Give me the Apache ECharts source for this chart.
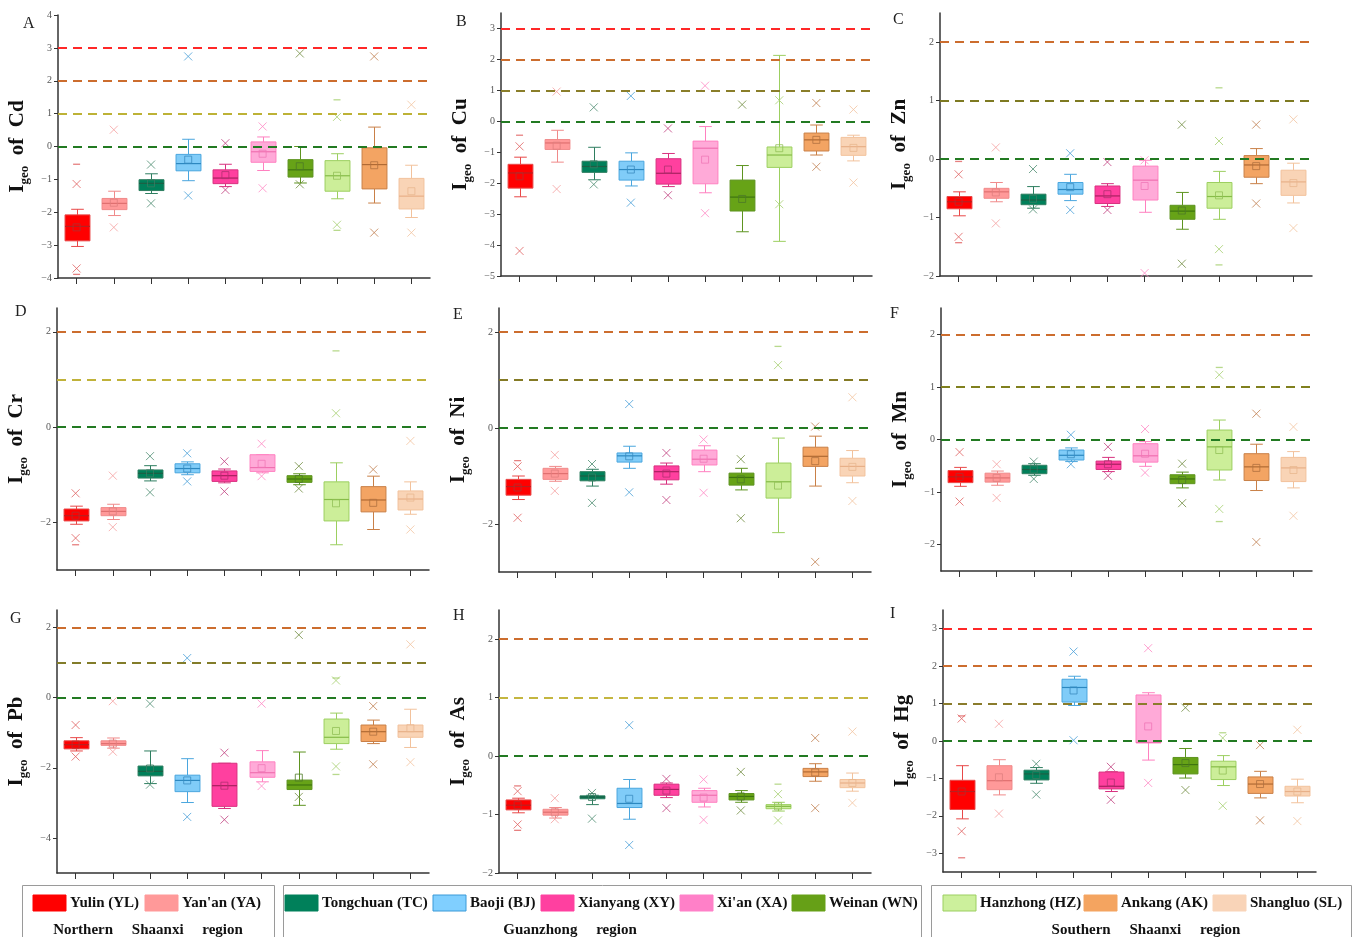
<!DOCTYPE html>
<html><head><meta charset="utf-8">
<script src="https://cdn.jsdelivr.net/npm/echarts@6/dist/echarts.min.js"></script>
<style>html,body{margin:0;padding:0;background:#fff}#c{width:1358px;height:937px}</style>
</head><body><div id="c"></div><script>
// ---------------- DATA ----------------
const categories = ['Yulin (YL)', "Yan'an (YA)", 'Tongchuan (TC)', 'Baoji (BJ)', 'Xianyang (XY)', "Xi'an (XA)", 'Weinan (WN)', 'Hanzhong (HZ)', 'Ankang (AK)', 'Shangluo (SL)'];
const regionNames = ['Northern     Shaanxi     region', 'Guanzhong     region', 'Southern     Shaanxi     region'];
const elements = ['Cd', 'Cu', 'Zn', 'Cr', 'Ni', 'Mn', 'Pb', 'As', 'Hg'];
const panelLetters = ['A', 'B', 'C', 'D', 'E', 'F', 'G', 'H', 'I'];

// box stats per category: [lower whisker, Q1, median, Q3, upper whisker]
const cdBox = [[-3.04,-2.87,-2.43,-2.08,-1.91],[-2.10,-1.92,-1.73,-1.58,-1.36],[-1.43,-1.34,-1.12,-1.01,-0.83],[-1.04,-0.74,-0.52,-0.24,0.22],[-1.22,-1.13,-0.96,-0.71,-0.54],[-0.73,-0.48,-0.16,0.14,0.29],[-1.11,-0.93,-0.71,-0.40,0.0],[-1.59,-1.36,-0.89,-0.43,-0.22],[-1.72,-1.29,-0.55,-0.04,0.59],[-2.16,-1.90,-1.51,-0.97,-0.57]];
const cdMean = [-2.46,-1.71,-1.12,-0.40,-0.87,-0.22,-0.60,-0.89,-0.57,-1.36];
const cdOut = [[-1.14,-3.71],[0.51,-2.46],[-0.55,-1.73],[2.74,-1.49],[0.10,-1.32],[0.61,-1.27],[2.83,-1.15],[0.90,-2.38],[2.74,-2.62],[1.27,-2.62]];
const cdExt = [[-0.54,-3.89],[],[],[],[],[],[],[1.42,-2.55],[],[]];

const cuBox = [[-2.44,-2.16,-1.67,-1.39,-1.16],[-1.32,-0.91,-0.70,-0.59,-0.29],[-1.89,-1.65,-1.46,-1.29,-0.84],[-2.09,-1.90,-1.56,-1.29,-1.02],[-2.11,-2.03,-1.68,-1.21,-1.04],[-2.31,-2.02,-0.87,-0.64,-0.17],[-3.57,-2.90,-2.45,-1.90,-1.43],[-3.88,-1.49,-1.09,-0.83,2.13],[-1.09,-0.96,-0.60,-0.38,-0.12],[-1.28,-1.10,-0.82,-0.52,-0.45]];
const cuMean = [-1.78,-0.79,-1.39,-1.56,-1.56,-1.24,-2.51,-0.87,-0.60,-0.86];
const cuOut = [[-0.81,-4.19],[0.96,-2.19],[0.45,-2.04],[0.82,-2.63],[-0.23,-2.39],[1.15,-2.97],[0.54],[0.68,-2.68],[0.59,-1.47],[0.38,-1.98]];
const cuExt = [[-0.45],[],[],[],[],[],[],[],[],[]];

const znBox = [[-0.97,-0.85,-0.73,-0.64,-0.56],[-0.73,-0.67,-0.56,-0.50,-0.40],[-0.84,-0.78,-0.70,-0.60,-0.47],[-0.71,-0.60,-0.52,-0.40,-0.26],[-0.81,-0.76,-0.63,-0.46,-0.42],[-0.91,-0.70,-0.36,-0.12,-0.02],[-1.20,-1.03,-0.89,-0.79,-0.57],[-1.03,-0.84,-0.64,-0.40,-0.21],[-0.42,-0.31,-0.10,0.06,0.18],[-0.75,-0.62,-0.39,-0.19,-0.07]];
const znMean = [-0.73,-0.57,-0.68,-0.48,-0.60,-0.46,-0.88,-0.62,-0.12,-0.41];
const znOut = [[-0.26,-1.33],[0.20,-1.10],[-0.17,-0.86],[0.10,-0.87],[-0.05,-0.87],[-0.02,-1.95],[0.59,-1.79],[0.31,-1.54],[0.59,-0.76],[0.68,-1.18]];
const znExt = [[-0.04,-1.43],[],[],[],[],[],[],[1.22,-1.81],[],[]];

const crBox = [[-2.04,-1.97,-1.86,-1.72,-1.66],[-1.94,-1.86,-1.77,-1.69,-1.62],[-1.13,-1.07,-0.97,-0.90,-0.81],[-1.00,-0.96,-0.87,-0.77,-0.73],[-1.17,-1.14,-1.02,-0.92,-0.88],[-0.96,-0.93,-0.85,-0.58,-0.58],[-1.21,-1.16,-1.09,-1.02,-0.98],[-2.47,-1.97,-1.52,-1.15,-0.75],[-2.15,-1.78,-1.53,-1.25,-1.03],[-1.83,-1.74,-1.51,-1.34,-1.15]];
const crMean = [-1.86,-1.77,-0.97,-0.87,-1.02,-0.77,-1.09,-1.60,-1.59,-1.48];
const crOut = [[-1.39,-2.33],[-1.02,-2.10],[-0.61,-1.37],[-0.55,-1.14],[-0.72,-1.35],[-0.35,-1.03],[-0.82,-1.29],[0.29],[-0.89],[-0.29,-2.15]];
const crExt = [[-2.47],[],[],[],[],[],[],[1.60],[],[]];

const niBox = [[-1.49,-1.40,-1.22,-1.07,-1.00],[-1.11,-1.07,-0.95,-0.84,-0.80],[-1.21,-1.10,-1.00,-0.91,-0.86],[-0.84,-0.71,-0.58,-0.52,-0.38],[-1.17,-1.08,-0.91,-0.79,-0.73],[-0.91,-0.77,-0.65,-0.46,-0.37],[-1.29,-1.19,-1.03,-0.94,-0.84],[-2.18,-1.46,-1.12,-0.73,-0.21],[-1.21,-0.80,-0.59,-0.40,-0.17],[-1.14,-1.00,-0.80,-0.63,-0.47]];
const niMean = [-1.24,-0.95,-1.03,-0.59,-0.95,-0.64,-1.07,-1.20,-0.69,-0.81];
const niOut = [[-0.80,-1.87],[-0.56,-1.31],[-0.75,-1.56],[0.50,-1.34],[-0.52,-1.50],[-0.24,-1.35],[-0.65,-1.88],[1.31],[0.03,-2.79],[0.64,-1.52]];
const niExt = [[-0.68],[],[],[],[],[],[],[1.70],[],[]];

const mnBox = [[-0.89,-0.82,-0.71,-0.59,-0.53],[-0.87,-0.81,-0.73,-0.64,-0.60],[-0.68,-0.65,-0.57,-0.49,-0.46],[-0.42,-0.39,-0.30,-0.20,-0.16],[-0.61,-0.57,-0.47,-0.41,-0.34],[-0.51,-0.43,-0.31,-0.08,-0.04],[-0.92,-0.84,-0.75,-0.67,-0.62],[-0.77,-0.58,-0.14,0.18,0.37],[-0.97,-0.78,-0.52,-0.27,-0.09],[-0.92,-0.80,-0.54,-0.34,-0.23]];
const mnMean = [-0.71,-0.73,-0.57,-0.28,-0.47,-0.27,-0.77,-0.20,-0.54,-0.58];
const mnOut = [[-0.24,-1.18],[-0.47,-1.11],[-0.42,-0.75],[0.09,-0.47],[-0.14,-0.69],[0.20,-0.63],[-0.46,-1.21],[1.23,-1.32],[0.49,-1.95],[0.24,-1.45]];
const mnExt = [[],[],[],[],[],[],[],[1.37,-1.56],[],[]];

const pbBox = [[-1.52,-1.46,-1.34,-1.23,-1.14],[-1.44,-1.36,-1.31,-1.23,-1.15],[-2.45,-2.23,-2.10,-1.95,-1.52],[-2.99,-2.68,-2.36,-2.21,-1.74],[-3.16,-3.10,-2.51,-1.87,-1.87],[-2.40,-2.27,-2.14,-1.83,-1.51],[-3.07,-2.62,-2.49,-2.35,-1.55],[-1.47,-1.31,-1.13,-0.61,-0.44],[-1.31,-1.25,-0.97,-0.78,-0.64],[-1.42,-1.13,-0.97,-0.78,-0.33]];
const pbMean = [-1.34,-1.31,-2.02,-2.36,-2.51,-2.01,-2.28,-0.95,-0.97,-0.87];
const pbOut = [[-0.78,-1.68],[-0.10,-1.54],[-0.17,-2.48],[1.13,-3.40],[-1.57,-3.48],[-0.17,-2.52],[1.79,-2.83],[0.49,-1.96],[-0.24,-1.90],[1.52,-1.84]];
const pbExt = [[],[],[],[],[],[],[],[0.56,-2.19],[],[]];

const asBox = [[-0.97,-0.92,-0.84,-0.75,-0.72],[-1.06,-1.01,-0.96,-0.91,-0.88],[-0.83,-0.73,-0.70,-0.68,-0.67],[-1.08,-0.88,-0.81,-0.55,-0.40],[-0.71,-0.67,-0.57,-0.48,-0.46],[-0.87,-0.79,-0.67,-0.59,-0.55],[-0.79,-0.75,-0.69,-0.64,-0.59],[-0.94,-0.90,-0.86,-0.83,-0.79],[-0.43,-0.35,-0.27,-0.21,-0.13],[-0.60,-0.54,-0.46,-0.40,-0.29]];
const asMean = [-0.84,-0.96,-0.70,-0.73,-0.59,-0.71,-0.69,-0.86,-0.28,-0.46];
const asOut = [[-0.60,-1.17],[-0.72,-1.08],[-0.63,-1.07],[0.53,-1.52],[-0.39,-0.89],[-0.40,-1.09],[-0.27,-0.93],[-0.65,-1.10],[0.31,-0.89],[0.42,-0.80]];
const asExt = [[-0.51,-1.27],[],[],[],[],[],[],[-0.48],[],[]];

const hgBox = [[-2.08,-1.83,-1.35,-1.05,-0.66],[-1.44,-1.30,-1.06,-0.66,-0.50],[-1.13,-1.04,-0.88,-0.78,-0.71],[0.95,1.04,1.43,1.65,1.73],[-1.35,-1.28,-1.21,-0.83,-0.82],[-0.51,-0.05,-0.04,1.23,1.29],[-0.99,-0.88,-0.63,-0.44,-0.20],[-1.19,-1.03,-0.69,-0.54,-0.39],[-1.52,-1.40,-1.15,-0.96,-0.81],[-1.65,-1.47,-1.35,-1.21,-1.02]];
const hgMean = [-1.35,-0.97,-0.91,1.35,-1.11,0.39,-0.59,-0.79,-1.15,-1.35];
const hgOut = [[0.60,-2.41],[0.46,-1.94],[-0.61,-1.43],[2.39,0.02],[-0.69,-1.57],[2.48,-1.12],[0.89,-1.31],[0.08,-1.73],[-0.11,-2.12],[0.30,-2.14]];
const hgExt = [[0.67,-3.12],[],[],[],[],[],[],[0.22],[],[]];

// y-axis ranges, tick labels, Igeo class lines
const yRanges = [[-4, 4], [-5, 3.5], [-2, 2.5], [-3, 2.5], [-3, 2.5], [-2.5, 2.5], [-5, 2.5], [-2, 2.5], [-3.5, 3.5]];
const yTicks = [[-4,-3,-2,-1,0,1,2,3,4], [-5,-4,-3,-2,-1,0,1,2,3], [-2,-1,0,1,2], [-2,0,2], [-2,0,2], [-2,-1,0,1,2], [-4,-2,0,2], [-2,-1,0,1,2], [-3,-2,-1,0,1,2,3]];
const classLevels = [[0,1,2,3], [0,1,2,3], [0,1,2], [0,1,2], [0,1,2], [0,1,2], [0,1,2], [0,1,2], [0,1,2,3]];

// ---------------- STYLE ----------------
const boxSets = [cdBox, cuBox, znBox, crBox, niBox, mnBox, pbBox, asBox, hgBox];
const meanSets = [cdMean, cuMean, znMean, crMean, niMean, mnMean, pbMean, asMean, hgMean];
const outSets = [cdOut, cuOut, znOut, crOut, niOut, mnOut, pbOut, asOut, hgOut];
const extSets = [cdExt, cuExt, znExt, crExt, niExt, mnExt, pbExt, asExt, hgExt];

const fillColors = ['#FF0000','#FF9999','#00805A','#80CCF8','#FF409F','#FFAAD8','#67A317','#CCEE99','#F3A463','#F9D4B6'];
const lineColors = ['#E84848','#F08A8A','#2E7E60','#4AA6DE','#D8307F','#FF80C0','#5E9420','#9CCF60','#C98048','#F2C29C'];
const medColors  = ['#B82020','#E07070','#1E5E44','#2C88C0','#A8205F','#F070B0','#3E7410','#86BC48','#B06A34','#E8B088'];
const outColors  = ['#E06060','#F5A0A0','#4C8C70','#4AA0D8','#C04080','#FF88C4','#708C40','#A6D070','#C08050','#F3C4A0'];
const meanColors = ['#B03030','#E08080','#3A7A60','#3A8CC0','#B03070','#F078B8','#4E7A28','#92C058','#B07040','#E8B890'];
const legendFill = ['#FF0000','#FF9999','#00805A','#80CFFF','#FF40A0','#FF80C8','#66A017','#CCF09C','#F4A460','#F9D4B8'];
const legendStroke = ['#FF0000','#FF9999','#00805A','#3A9AD8','#FF40A0','#FF80C8','#66A017','#9CCF60','#F4A460','#F9D4B8'];
const oliveColors = ['#BDB236','#8A7E2A','#7E7A22','#C0B23A','#847A24','#80801E','#827C2A','#C4B640','#8A7C2C'];
const levelColor = (lvl, p) => lvl === 3 ? '#FF2828' : lvl === 2 ? '#CC6D2E' : lvl === 1 ? oliveColors[p] : '#227A22';

const grids = [
  {left: 58, top: 15, width: 372, height: 263},
  {left: 501, top: 13, width: 371, height: 263},
  {left: 940, top: 13, width: 372, height: 263},
  {left: 57, top: 308, width: 372, height: 262},
  {left: 499, top: 308, width: 372, height: 264},
  {left: 941, top: 308, width: 371, height: 263},
  {left: 57, top: 610, width: 372, height: 263},
  {left: 499, top: 610, width: 372, height: 263},
  {left: 943, top: 610, width: 373, height: 262}
];
const letterPos = [[29,25],[462,23],[899,21],[21,313],[459,316],[896,315],[16,620],[459,617],[896,615]];

const SERIF = "'Liberation Serif', 'DejaVu Serif', serif";
const minus = v => String(v).replace('-', '\u2212');

function renderBox(params, api) {
  const i = api.value(0);
  const lo = api.coord([i, api.value(1)]);
  const q1 = api.coord([i, api.value(2)]);
  const md = api.coord([i, api.value(3)]);
  const q3 = api.coord([i, api.value(4)]);
  const hi = api.coord([i, api.value(5)]);
  const cw = api.size([1, 0])[0];
  const bw = cw * 0.67, cap = cw * 0.34;
  const x = Math.round(lo[0]) + 0.5;
  const ls = {stroke: lineColors[i], lineWidth: 1};
  return {type: 'group', children: [
    {type: 'line', shape: {x1: x, y1: hi[1], x2: x, y2: q3[1]}, style: ls},
    {type: 'line', shape: {x1: x, y1: q1[1], x2: x, y2: lo[1]}, style: ls},
    {type: 'line', shape: {x1: x - cap / 2, y1: hi[1], x2: x + cap / 2, y2: hi[1]}, style: ls},
    {type: 'line', shape: {x1: x - cap / 2, y1: lo[1], x2: x + cap / 2, y2: lo[1]}, style: ls},
    {type: 'rect', shape: {x: x - bw / 2, y: q3[1], width: bw, height: q1[1] - q3[1]}, style: {fill: fillColors[i], stroke: lineColors[i], lineWidth: 1}},
    {type: 'line', shape: {x1: x - bw / 2, y1: md[1], x2: x + bw / 2, y2: md[1]}, style: {stroke: medColors[i], lineWidth: 1.2}}
  ]};
}

const xAxes = [], yAxes = [], series = [], graphics = [];
for (let p = 0; p < 9; p++) {
  xAxes.push({
    type: 'category', gridIndex: p, data: categories, boundaryGap: true, position: 'bottom',
    axisLine: {onZero: false, lineStyle: {color: '#333', width: 1.5}},
    axisTick: {show: true, alignWithLabel: true, interval: 0, length: 6, lineStyle: {color: '#333', width: 1}},
    axisLabel: {show: true, interval: 0, formatter: () => ''}, splitLine: {show: false}
  });
  yAxes.push({
    type: 'value', gridIndex: p, min: yRanges[p][0], max: yRanges[p][1],
    axisLine: {show: true, onZero: false, lineStyle: {color: '#333', width: 1.5}},
    axisTick: {show: true, length: 4, lineStyle: {color: '#333'}, customValues: yTicks[p]},
    axisLabel: {fontSize: 10, color: '#555', fontFamily: SERIF, margin: 6, customValues: yTicks[p], formatter: minus},
    splitLine: {show: false},
    name: '{a|I}{b|geo}{a|  of  ' + elements[p] + '}',
    nameLocation: 'middle', nameGap: 27, nameRotate: 90,
    nameTextStyle: {
      rich: {
        a: {fontFamily: SERIF, fontWeight: 'bold', fontSize: 21, color: '#111', lineHeight: 26},
        b: {fontFamily: SERIF, fontWeight: 'bold', fontSize: 13, color: '#111', lineHeight: 26, verticalAlign: 'bottom', padding: [12, 0, 0, 0]}
      }
    }
  });
  // Igeo class reference lines
  series.push({
    type: 'line', xAxisIndex: p, yAxisIndex: p, data: [], z: 1, silent: true,
    markLine: {
      silent: true, symbol: 'none', label: {show: false}, animation: false,
      data: classLevels[p].map(l => ({yAxis: l, lineStyle: {color: levelColor(l, p), type: [9, 6], width: 2}}))
    }
  });
  series.push({
    type: 'custom', xAxisIndex: p, yAxisIndex: p, z: 2, silent: true,
    renderItem: renderBox,
    encode: {x: 0, y: [1, 2, 3, 4, 5]},
    data: boxSets[p].map((b, i) => [i].concat(b))
  });
  const outData = [];
  outSets[p].forEach((arr, i) => arr.forEach(v => outData.push({value: [i, v], itemStyle: {borderColor: outColors[i]}})));
  series.push({
    type: 'scatter', xAxisIndex: p, yAxisIndex: p, z: 3, silent: true,
    symbol: 'path://M0,0L10,10M10,0L0,10', symbolSize: 8,
    itemStyle: {color: 'rgba(0,0,0,0)', borderWidth: 1},
    data: outData
  });
  const extData = [];
  extSets[p].forEach((arr, i) => arr.forEach(v => extData.push({value: [i, v], itemStyle: {color: outColors[i]}})));
  series.push({
    type: 'scatter', xAxisIndex: p, yAxisIndex: p, z: 3, silent: true,
    symbol: 'rect', symbolSize: [7, 1.3], data: extData
  });
  series.push({
    type: 'scatter', xAxisIndex: p, yAxisIndex: p, z: 4, silent: true,
    symbol: 'rect', symbolSize: 7,
    itemStyle: {color: 'rgba(0,0,0,0)', borderWidth: 1},
    data: meanSets[p].map((m, i) => ({value: [i, m], itemStyle: {borderColor: meanColors[i]}}))
  });
  graphics.push({
    type: 'text', left: letterPos[p][0] - 6, top: letterPos[p][1] - 9,
    style: {text: panelLetters[p], font: '16px ' + SERIF, fill: '#222'}
  });
}

// ---------------- LEGEND (drawn from the category arrays) ----------------
const groupBoxes = [[22, 252], [283, 638], [931, 420]];
const swatchX = [33, 145, 285, 433, 541, 680, 792, 943, 1084, 1213];
const regionCenters = [148, 570, 1146];
groupBoxes.forEach((g, k) => {
  graphics.push({type: 'rect', shape: {x: g[0] + 0.5, y: 885.5, width: g[1], height: 70}, style: {fill: 'none', stroke: '#9a9a9a', lineWidth: 1}});
  graphics.push({type: 'text', x: regionCenters[k], y: 930, style: {text: regionNames[k], font: 'bold 15px ' + SERIF, fill: '#111', textAlign: 'center', textVerticalAlign: 'middle'}});
});
categories.forEach((c, i) => {
  graphics.push({type: 'rect', shape: {x: swatchX[i], y: 895, width: 33, height: 16}, style: {fill: legendFill[i], stroke: legendStroke[i], lineWidth: 1}});
  graphics.push({type: 'text', x: swatchX[i] + 37, y: 903.5, style: {text: c, font: 'bold 15px ' + SERIF, fill: '#111', textVerticalAlign: 'middle'}});
});

const chart = echarts.init(document.getElementById('c'), null, {renderer: 'canvas'});
chart.setOption({
  animation: false,
  backgroundColor: '#fff',
  grid: grids,
  xAxis: xAxes,
  yAxis: yAxes,
  series: series,
  graphic: graphics
});
</script></body></html>
